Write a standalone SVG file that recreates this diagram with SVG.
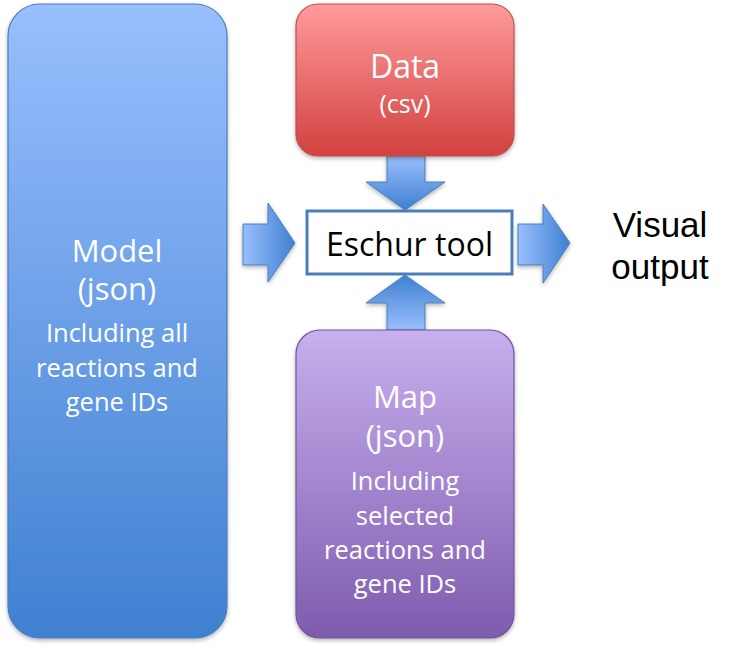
<svg xmlns="http://www.w3.org/2000/svg" width="740" height="650" viewBox="0 0 740 650">
<defs>
<linearGradient id="gBlue" x1="0" y1="0" x2="0" y2="1"><stop offset="0" stop-color="#99BFFE"/><stop offset="1" stop-color="#3F80D1"/></linearGradient>
<linearGradient id="gRed" x1="0" y1="0" x2="0" y2="1"><stop offset="0" stop-color="#FF9B9B"/><stop offset="1" stop-color="#D1413F"/></linearGradient>
<linearGradient id="gPurple" x1="0" y1="0" x2="0" y2="1"><stop offset="0" stop-color="#C7B0EE"/><stop offset="1" stop-color="#7F5BAE"/></linearGradient>
<linearGradient id="gArrH" x1="0" y1="0" x2="1" y2="0"><stop offset="0" stop-color="#99BFFE"/><stop offset="1" stop-color="#3F80D1"/></linearGradient>
<linearGradient id="gArrV" x1="0" y1="0" x2="0" y2="1"><stop offset="0" stop-color="#99BFFE"/><stop offset="1" stop-color="#3F80D1"/></linearGradient>
<linearGradient id="gArrU" x1="0" y1="1" x2="0" y2="0"><stop offset="0" stop-color="#99BFFE"/><stop offset="1" stop-color="#3F80D1"/></linearGradient>
<filter id="sh" x="-10%" y="-10%" width="120%" height="120%"><feDropShadow dx="0" dy="2" stdDeviation="2" flood-color="#000" flood-opacity="0.3"/></filter>
</defs>
<style>
.box{filter:url(#sh);stroke-width:1.2}
.wt{fill:#fff;font-family:"Open Sans",Lato,sans-serif;font-weight:500;text-anchor:middle}
.arr{stroke:#4A7EBB;stroke-width:1;filter:url(#sh)}
</style>
<g id="connectors">
<path class="arr" fill="url(#gArrV)" d="M387,156 H425 V182 H445 L405,210 L366,182 H387 Z"/>
<path class="arr" fill="url(#gArrU)" d="M387,330 H425 V303 H445 L405,275 L366,303 H387 Z"/>
<path class="arr" fill="url(#gArrH)" d="M243,224 H268 V203 L295,243 L268,282 V265 H243 Z"/>
<path class="arr" fill="url(#gArrH)" d="M518,224 H543 V204 L570,243 L543,283 V265 H518 Z"/>
</g>
<g id="model">
<rect class="box" x="8" y="4" width="219" height="634" rx="32" fill="url(#gBlue)" stroke="#4A7EBB"/>
<text class="wt" x="117" y="262" font-size="31">Model</text>
<text class="wt" x="117" y="300" font-size="31">(json)</text>
<text class="wt" x="117" y="342" font-size="25.5">Including all</text>
<text class="wt" x="117" y="377" font-size="25.5">reactions and</text>
<text class="wt" x="117" y="411" font-size="25.5">gene IDs</text>
</g>
<g id="data">
<rect class="box" x="296" y="4" width="218" height="152" rx="22" fill="url(#gRed)" stroke="#B9504E"/>
<text class="wt" x="405" y="78" font-size="32">Data</text>
<text class="wt" x="405" y="113" font-size="25">(csv)</text>
</g>
<g id="map">
<rect class="box" x="296" y="330" width="218" height="308" rx="24" fill="url(#gPurple)" stroke="#70559A"/>
<text class="wt" x="405" y="408" font-size="31">Map</text>
<text class="wt" x="405" y="447" font-size="31">(json)</text>
<text class="wt" x="405" y="490" font-size="25.5">Including</text>
<text class="wt" x="405" y="525" font-size="25.5">selected</text>
<text class="wt" x="405" y="559" font-size="25.5">reactions and</text>
<text class="wt" x="405" y="593" font-size="25.5">gene IDs</text>
</g>
<g id="eschur">
<rect x="307" y="211" width="205" height="63" fill="#fff" stroke="#4A7EBB" stroke-width="3"/>
<text x="409.5" y="256" font-size="32" font-family="'Open Sans',Lato,sans-serif" text-anchor="middle" fill="#000">Eschur tool</text>
</g>
<g id="output">
<text x="660" y="237" font-size="35" font-family="'Liberation Sans',Arial,sans-serif" text-anchor="middle" fill="#000">Visual</text>
<text x="660" y="279" font-size="35" font-family="'Liberation Sans',Arial,sans-serif" text-anchor="middle" fill="#000">output</text>
</g>
</svg>
